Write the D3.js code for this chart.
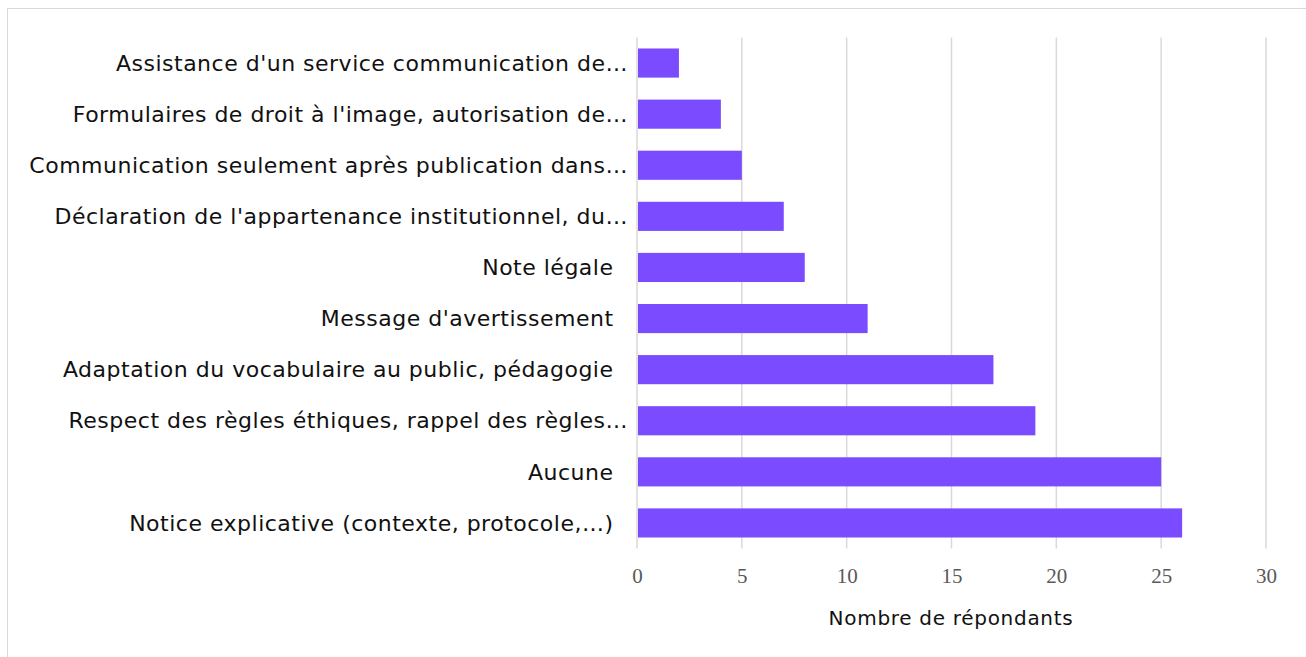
<!DOCTYPE html>
<html><head><meta charset="utf-8">
<script src="https://cdn.jsdelivr.net/npm/d3@7"></script>
<style>
  html, body { margin: 0; padding: 0; background: #fff; }
  .cat { font-family: "DejaVu Sans", sans-serif; font-size: 22px; letter-spacing: 0.5px; fill: #111; white-space: pre; }
  .tick text { font-family: "Liberation Serif", "DejaVu Serif", serif; font-size: 21px; fill: #595959; }
  .ttl { font-family: "DejaVu Sans", sans-serif; font-size: 20px; letter-spacing: 0.7px; fill: #111; }
</style></head>
<body>
<svg id="chart" width="1306" height="657"></svg>
<script>
/* survey: measures taken when communicating results (horizontal bars) */
const CATEGORIES = [
  "Assistance d'un service communication de\u2026",
  "Formulaires de droit à l'image, autorisation de\u2026",
  "Communication seulement après publication dans\u2026",
  "Déclaration de l'appartenance institutionnel, du\u2026",
  "Note légale ",
  "Message d'avertissement ",
  "Adaptation du vocabulaire au public, pédagogie ",
  "Respect des règles éthiques, rappel des règles\u2026",
  "Aucune ",
  "Notice explicative (contexte, protocole,\u2026) "
];
const VALUES = [2, 4, 5, 7, 8, 11, 17, 19, 25, 26];
const X_TICKS = [0, 5, 10, 15, 20, 25, 30];
const X_TITLE = "Nombre de répondants";

const BAR = '#7B4BFF';
const GRID = '#d9d9d9';

const svg = d3.select('#chart');
const M = { left: 637, right: 40, top: 37.5, bottom: 108.5 };
const W = 1306, H = 657;

/* outer frame */
svg.append('rect').attr('x', 7.5).attr('y', 8.5).attr('width', 1310).attr('height', 660)
  .attr('fill', 'none').attr('stroke', GRID).attr('stroke-width', 1);

const x = d3.scaleLinear().domain([0, 30]).range([M.left, 1266]);
const y = d3.scaleBand().domain(CATEGORIES).range([M.top, H - M.bottom]).paddingInner(0.43).paddingOuter(0.215);

/* vertical grid */
svg.append('g').selectAll('line').data(X_TICKS).join('line')
  .attr('x1', d => x(d)).attr('x2', d => x(d))
  .attr('y1', M.top).attr('y2', H - M.bottom)
  .attr('stroke', GRID).attr('stroke-width', 1.5);

/* tick labels */
const ax = svg.append('g').attr('transform', `translate(0,${H - M.bottom})`)
  .call(d3.axisBottom(x).tickValues(X_TICKS).tickSize(0).tickPadding(20));
ax.select('.domain').remove();

/* bars */
svg.append('g').selectAll('rect').data(VALUES).join('rect')
  .attr('x', x(0) + 1)
  .attr('y', (d, i) => y(CATEGORIES[i]))
  .attr('width', d => x(d) - x(0) - 1)
  .attr('height', y.bandwidth())
  .attr('fill', BAR);

/* category labels — trailing space in source renders wider there */
svg.append('g').selectAll('text').data(CATEGORIES).join('text')
  .attr('class', 'cat')
  .attr('x', M.left - 9)
  .attr('y', d => y(d) + y.bandwidth() / 2)
  .attr('dy', '0.35em')
  .attr('dx', d => d.endsWith(' ') ? -7 : 0)
  .attr('text-anchor', 'end')
  .text(d => d);

svg.append('text').attr('class', 'ttl')
  .attr('x', 951).attr('y', 625)
  .attr('text-anchor', 'middle')
  .text(X_TITLE);
</script>
</body></html>
